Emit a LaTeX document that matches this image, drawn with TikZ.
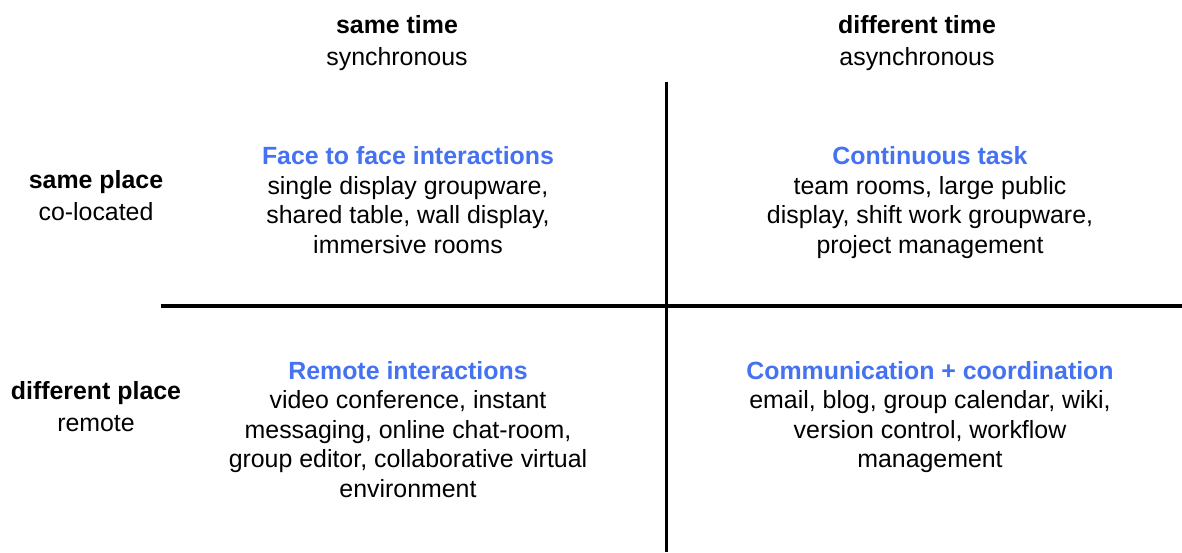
\documentclass[tikz,border=0pt]{standalone}
\usepackage{fontspec}
\setmainfont{Liberation Sans}
\definecolor{titleblue}{HTML}{4472F0}
\begin{document}
\begin{tikzpicture}[x=1pt,y=-1pt,
  txt/.style={anchor=base,inner sep=0pt,font=\fontsize{24.9}{29.5}\selectfont},
  hd/.style={txt,font=\fontsize{24.9}{29.5}\selectfont\bfseries},
  ttl/.style={hd,text=titleblue},
  axis/.style={line width=3.2pt,black}]
\useasboundingbox[fill=white] (0,0) rectangle (1182,552);
% axes
\coordinate (vtop) at (666.7,82);
\coordinate (vbot) at (666.7,552);
\coordinate (hl) at (161,306);
\coordinate (hr) at (1182,306);
\draw[axis] (vtop) -- (vbot);
\draw[axis] (hl) -- (hr);
% column headers
\node[hd]  (st)  at (397,33) {same time};
\node[txt] (sy)  at (397,65) {synchronous};
\node[hd]  (dt)  at (917,33) {different time};
\node[txt] (asy) at (917,65) {asynchronous};
% row headers
\node[hd]  (sp)  at (96,188) {same place};
\node[txt] (col) at (96,220) {co-located};
\node[hd]  (dp)  at (96,399) {different place};
\node[txt] (rem) at (96,431) {remote};
% quadrant 1
\node[ttl] (q1t) at (408,164.5) {Face to face interactions};
\node[txt] (q1a) at (408,194) {single display groupware,};
\node[txt] (q1b) at (408,223.5) {shared table, wall display,};
\node[txt] (q1c) at (408,253) {immersive rooms};
% quadrant 2
\node[ttl] (q2t) at (930,164.5) {Continuous task};
\node[txt] (q2a) at (930,194) {team rooms, large public};
\node[txt] (q2b) at (930,223.5) {display, shift work groupware,};
\node[txt] (q2c) at (930,253) {project management};
% quadrant 3
\node[ttl] (q3t) at (408,379) {Remote interactions};
\node[txt] (q3a) at (408,408.5) {video conference, instant};
\node[txt] (q3b) at (408,438) {messaging, online chat-room,};
\node[txt] (q3c) at (408,467.5) {group editor, collaborative virtual};
\node[txt] (q3d) at (408,497) {environment};
% quadrant 4
\node[ttl] (q4t) at (930,379) {Communication + coordination};
\node[txt] (q4a) at (930,408.5) {email, blog, group calendar, wiki,};
\node[txt] (q4b) at (930,438) {version control, workflow};
\node[txt] (q4c) at (930,467.5) {management};
\end{tikzpicture}
\end{document}
